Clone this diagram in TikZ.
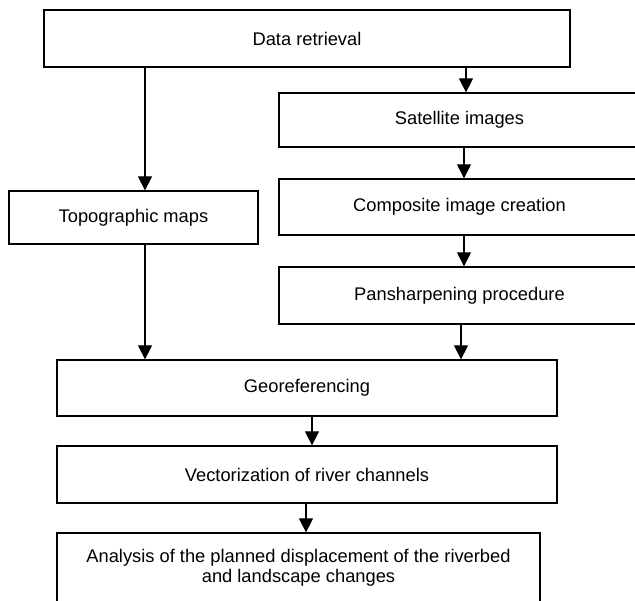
\documentclass[tikz,border=0pt]{standalone}
\usepackage{fontspec}
\setmainfont{Liberation Sans}
\usetikzlibrary{arrows.meta}
\begin{document}
\begin{tikzpicture}[x=1pt,y=1pt,
  boxnode/.style={draw, line width=1.3pt, rectangle, inner sep=0pt, align=center,
    font=\fontsize{18.3}{20.5}\selectfont},
  arr/.style={line width=1.3pt, -{Triangle[length=14pt,width=14pt]}}]
\useasboundingbox (0,0) rectangle (635,-601);
\clip (0,0) rectangle (635,-601);
\node[boxnode, minimum width=526pt, minimum height=57pt] (data) at (307,-38.5) {Data retrieval};
\node[boxnode, minimum width=361pt, minimum height=54pt] (sat) at (459.5,-120) {Satellite images};
\node[boxnode, minimum width=361pt, minimum height=56pt] (comp) at (459.5,-207) {Composite image creation};
\node[boxnode, minimum width=361pt, minimum height=57pt] (pan) at (459.5,-295.5) {Pansharpening procedure};
\node[boxnode, minimum width=249pt, minimum height=53pt] (topo) at (133.5,-217.5) {Topographic maps};
\node[boxnode, minimum width=500pt, minimum height=56pt] (geo) at (307,-388) {Georeferencing};
\node[boxnode, minimum width=500pt, minimum height=57pt] (vec) at (307,-474.5) {Vectorization of river channels};
\node[boxnode, minimum width=483pt, minimum height=70pt] (ana) at (298.5,-568) {Analysis of the planned displacement of the riverbed\\and landscape changes};
\draw[arr] (data.south -| 145,0) -- (topo.north -| 145,0);
\draw[arr] (data.south -| 466,0) -- (sat.north -| 466,0);
\draw[arr] (sat.south -| 464,0) -- (comp.north -| 464,0);
\draw[arr] (comp.south -| 464,0) -- (pan.north -| 464,0);
\draw[arr] (topo.south -| 145,0) -- (geo.north -| 145,0);
\draw[arr] (pan.south -| 461,0) -- (geo.north -| 461,0);
\draw[arr] (geo.south -| 312,0) -- (vec.north -| 312,0);
\draw[arr] (vec.south -| 306,0) -- (ana.north -| 306,0);
\end{tikzpicture}
\end{document}
